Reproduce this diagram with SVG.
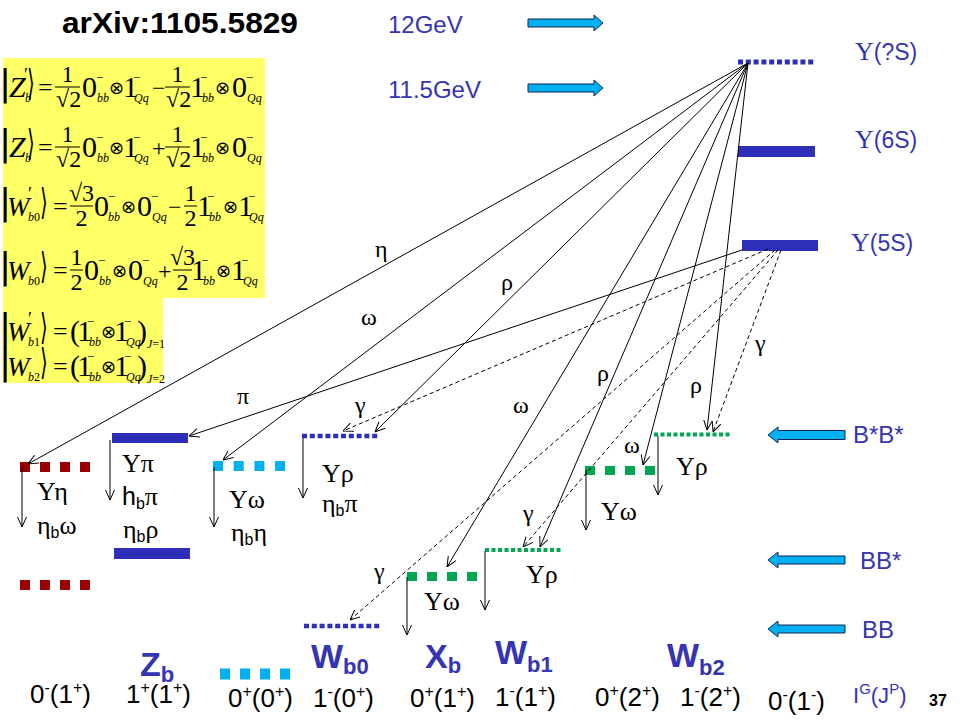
<svg xmlns="http://www.w3.org/2000/svg" width="960" height="720" viewBox="0 0 960 720">
<defs>
<marker id="ah" viewBox="0 0 10 10" refX="10" refY="5" markerWidth="10" markerHeight="10" markerUnits="userSpaceOnUse" orient="auto">
<path d="M0,0.5 L10,5 L0,9.5" fill="none" stroke="#000" stroke-width="1"/>
</marker>
<style>
.sans{font-family:"Liberation Sans",Arial,sans-serif}
.ser{font-family:"Liberation Serif","DejaVu Serif",serif}
.blue{fill:#3434B4}
.m{font-family:"Liberation Serif","DejaVu Serif",serif;font-size:30px}
.w{font-family:"Liberation Serif","DejaVu Serif",serif;font-size:27px;font-style:italic}
.eq{font-family:"Liberation Serif","DejaVu Serif",serif;font-size:26px}
.op{font-family:"Liberation Serif","DejaVu Serif",serif;font-size:24px}
.fr{font-family:"Liberation Serif","DejaVu Serif",serif;font-size:24px}
.sb{font-family:"Liberation Serif","DejaVu Serif",serif;font-size:12px;font-style:italic}
.sp{font-family:"Liberation Serif","DejaVu Serif",serif;font-size:13px}
.pr{font-family:"Liberation Serif","DejaVu Serif",serif;font-size:18px}
.it{font-style:italic}
.kt{font-family:"DejaVu Sans",sans-serif;font-size:36px}
.ot{font-family:"DejaVu Sans",sans-serif;font-size:18px}
.bar{stroke:#000;stroke-width:1}
.gk{font-family:"Liberation Serif","DejaVu Serif",serif;font-size:24px;fill:#000}
.nl{font-family:"Liberation Serif","DejaVu Serif",serif;font-size:26px;fill:#000}
.nb{font-family:"Liberation Sans",Arial,sans-serif;font-size:16px}
.nh{font-family:"Liberation Sans",Arial,sans-serif;font-size:25px}
.ln{stroke:#000;stroke-width:1;fill:none;marker-end:url(#ah)}
.dl{stroke:#000;stroke-width:1;fill:none;stroke-dasharray:4 3;marker-end:url(#ah)}
.blk{fill:#00B0F0;stroke:#1B2550;stroke-width:1}
.lv{font-family:"Liberation Sans",Arial,sans-serif;font-size:24px;fill:#3434B4}
.big{font-family:"Liberation Sans",Arial,sans-serif;font-weight:bold;fill:#3434B4}
.jp{font-family:"Liberation Sans",Arial,sans-serif;font-size:26px;fill:#000}
</style>
</defs>
<rect width="960" height="720" fill="#fff"/>

<!-- title -->
<text class="sans" x="62" y="33" font-size="30" font-weight="bold" textLength="236" lengthAdjust="spacingAndGlyphs">arXiv:1105.5829</text>

<!-- equations box -->
<g id="equations">
<path d="M3,58 H265 V298 H163 V383 H3 Z" fill="#FFFF66"/>
<!-- row 1 -->
<g transform="translate(0,87)">
<text class="kt" x="-1" y="8">|</text>
<text class="m it" x="9" y="10" font-size="28">Z</text>
<text class="pr" x="24" y="-6">′</text>
<text class="sb" x="25" y="15">b</text>
<text class="kt" transform="translate(27,8) scale(0.55,1)">⟩</text>
<text class="eq" x="38" y="9">=</text>
<line class="bar" x1="55" y1="0" x2="80" y2="0"/>
<text class="fr" x="67.5" y="-5" text-anchor="middle">1</text>
<text class="fr" x="56" y="20">√2</text>
<text class="m" x="82" y="10">0</text>
<text class="sp" x="96" y="-5">−</text>
<text class="sb" x="97" y="15">bb</text>
<text class="ot" x="109" y="7">⊗</text>
<text class="m" x="123" y="10">1</text>
<text class="sp" x="133" y="-5">−</text>
<text class="sb" x="134" y="15">Qq</text>
<text class="op" x="152" y="9">−</text>
<line class="bar" x1="165" y1="0" x2="190" y2="0"/>
<text class="fr" x="177.5" y="-5" text-anchor="middle">1</text>
<text class="fr" x="166" y="20">√2</text>
<text class="m" x="190" y="10">1</text>
<text class="sp" x="200" y="-5">−</text>
<text class="sb" x="202" y="15">bb</text>
<text class="ot" x="215" y="7">⊗</text>
<text class="m" x="232" y="10">0</text>
<text class="sp" x="246" y="-5">−</text>
<text class="sb" x="247" y="15">Qq</text>
</g>
<!-- row 2 -->
<g transform="translate(0,147)">
<text class="kt" x="-1" y="8">|</text>
<text class="m it" x="9" y="10" font-size="28">Z</text>
<text class="sb" x="25" y="15">b</text>
<text class="kt" transform="translate(27,8) scale(0.55,1)">⟩</text>
<text class="eq" x="38" y="9">=</text>
<line class="bar" x1="55" y1="0" x2="80" y2="0"/>
<text class="fr" x="67.5" y="-5" text-anchor="middle">1</text>
<text class="fr" x="56" y="20">√2</text>
<text class="m" x="82" y="10">0</text>
<text class="sp" x="96" y="-5">−</text>
<text class="sb" x="97" y="15">bb</text>
<text class="ot" x="109" y="7">⊗</text>
<text class="m" x="123" y="10">1</text>
<text class="sp" x="133" y="-5">−</text>
<text class="sb" x="134" y="15">Qq</text>
<text class="op" x="152" y="9">+</text>
<line class="bar" x1="165" y1="0" x2="190" y2="0"/>
<text class="fr" x="177.5" y="-5" text-anchor="middle">1</text>
<text class="fr" x="166" y="20">√2</text>
<text class="m" x="190" y="10">1</text>
<text class="sp" x="200" y="-5">−</text>
<text class="sb" x="202" y="15">bb</text>
<text class="ot" x="215" y="7">⊗</text>
<text class="m" x="232" y="10">0</text>
<text class="sp" x="246" y="-5">−</text>
<text class="sb" x="247" y="15">Qq</text>
</g>
<!-- row 3 -->
<g transform="translate(0,206)">
<text class="kt" x="-1" y="8">|</text>
<text class="w" x="7" y="10">W</text>
<text class="pr" x="28" y="-6">′</text>
<text class="sb" x="28" y="15">b<tspan font-style="normal">0</tspan></text>
<text class="kt" transform="translate(40,8) scale(0.55,1)">⟩</text>
<text class="eq" x="53" y="9">=</text>
<line class="bar" x1="70" y1="0" x2="93" y2="0"/>
<text class="fr" x="81.5" y="-5" text-anchor="middle">√3</text>
<text class="fr" x="81.5" y="20" text-anchor="middle">2</text>
<text class="m" x="94" y="10">0</text>
<text class="sp" x="108" y="-5">−</text>
<text class="sb" x="108" y="15">bb</text>
<text class="ot" x="121" y="7">⊗</text>
<text class="m" x="137" y="10">0</text>
<text class="sp" x="151" y="-5">−</text>
<text class="sb" x="152" y="15">Qq</text>
<text class="op" x="168" y="9">−</text>
<line class="bar" x1="184" y1="0" x2="197" y2="0"/>
<text class="fr" x="190.5" y="-5" text-anchor="middle">1</text>
<text class="fr" x="190.5" y="20" text-anchor="middle">2</text>
<text class="m" x="197" y="10">1</text>
<text class="sp" x="207" y="-5">−</text>
<text class="sb" x="209" y="15">bb</text>
<text class="ot" x="223" y="7">⊗</text>
<text class="m" x="238" y="10">1</text>
<text class="sp" x="248" y="-5">−</text>
<text class="sb" x="249" y="15">Qq</text>
</g>
<!-- row 4 -->
<g transform="translate(0,270)">
<text class="kt" x="-1" y="8">|</text>
<text class="w" x="7" y="10">W</text>
<text class="sb" x="28" y="15">b<tspan font-style="normal">0</tspan></text>
<text class="kt" transform="translate(40,8) scale(0.55,1)">⟩</text>
<text class="eq" x="53" y="9">=</text>
<line class="bar" x1="70" y1="0" x2="83" y2="0"/>
<text class="fr" x="76.5" y="-5" text-anchor="middle">1</text>
<text class="fr" x="76.5" y="20" text-anchor="middle">2</text>
<text class="m" x="84" y="10">0</text>
<text class="sp" x="98" y="-5">−</text>
<text class="sb" x="99" y="15">bb</text>
<text class="ot" x="112" y="7">⊗</text>
<text class="m" x="128" y="10">0</text>
<text class="sp" x="142" y="-5">−</text>
<text class="sb" x="143" y="15">Qq</text>
<text class="op" x="158" y="9">+</text>
<line class="bar" x1="173" y1="0" x2="192" y2="0"/>
<text class="fr" x="182.5" y="-5" text-anchor="middle">√3</text>
<text class="fr" x="182.5" y="20" text-anchor="middle">2</text>
<text class="m" x="191" y="10">1</text>
<text class="sp" x="201" y="-5">−</text>
<text class="sb" x="203" y="15">bb</text>
<text class="ot" x="216" y="7">⊗</text>
<text class="m" x="231" y="10">1</text>
<text class="sp" x="241" y="-5">−</text>
<text class="sb" x="243" y="15">Qq</text>
</g>
<!-- row 5 -->
<g transform="translate(0,331)">
<text class="kt" x="-1" y="8">|</text>
<text class="w" x="7" y="10">W</text>
<text class="pr" x="28" y="-6">′</text>
<text class="sb" x="28" y="15">b<tspan font-style="normal">1</tspan></text>
<text class="kt" transform="translate(40,8) scale(0.55,1)">⟩</text>
<text class="eq" x="53" y="9">=</text>
<text class="m" x="70" y="10">(</text>
<text class="m" x="77" y="10">1</text>
<text class="sp" x="87" y="-5">−</text>
<text class="sb" x="89" y="15">bb</text>
<text class="ot" x="101" y="7">⊗</text>
<text class="m" x="114" y="10">1</text>
<text class="sp" x="124" y="-5">−</text>
<text class="sb" x="126" y="15">Qq</text>
<text class="m" x="137" y="10">)</text>
<text class="sb" x="147" y="17" font-size="10">J<tspan font-style="normal">=1</tspan></text>
</g>
<!-- row 6 -->
<g transform="translate(0,366)">
<text class="kt" x="-1" y="8">|</text>
<text class="w" x="7" y="10">W</text>
<text class="sb" x="28" y="15">b<tspan font-style="normal">2</tspan></text>
<text class="kt" transform="translate(40,8) scale(0.55,1)">⟩</text>
<text class="eq" x="53" y="9">=</text>
<text class="m" x="70" y="10">(</text>
<text class="m" x="77" y="10">1</text>
<text class="sp" x="87" y="-5">−</text>
<text class="sb" x="89" y="15">bb</text>
<text class="ot" x="101" y="7">⊗</text>
<text class="m" x="114" y="10">1</text>
<text class="sp" x="124" y="-5">−</text>
<text class="sb" x="126" y="15">Qq</text>
<text class="m" x="137" y="10">)</text>
<text class="sb" x="147" y="17" font-size="10">J<tspan font-style="normal">=2</tspan></text>
</g>
</g>

<!-- energy markers -->
<g id="energy-12">
<text class="lv" x="388" y="33">12GeV</text>
<polygon class="blk" points="528,19 594,19 594,15 603,23 594,31 594,27 528,27"/>
</g>
<g id="energy-11_5">
<text class="lv" x="388" y="98">11.5GeV</text>
<polygon class="blk" points="528,84 594,84 594,80 603,88 594,96 594,92 528,92"/>
</g>

<!-- upsilon levels -->
<g id="upsilon-qS">
<line x1="738" y1="62" x2="815" y2="62" stroke="#2E2EB8" stroke-width="5" stroke-dasharray="5 2.8"/>
<text x="855" y="60" class="blue"><tspan class="ser" font-size="26">Υ</tspan><tspan class="sans" font-size="23">(?S)</tspan></text>
</g>
<g id="upsilon-6S">
<rect x="738" y="146" width="77" height="11" fill="#2E2EB8"/>
<text x="855" y="148" class="blue"><tspan class="ser" font-size="26">Υ</tspan><tspan class="sans" font-size="23">(6S)</tspan></text>
</g>
<g id="upsilon-5S">
<rect x="742" y="240" width="76" height="11" fill="#2E2EB8"/>
<text x="851" y="251" class="blue"><tspan class="ser" font-size="26">Υ</tspan><tspan class="sans" font-size="23">(5S)</tspan></text>
</g>

<!-- thresholds -->
<g id="thr-BsBs">
<polygon class="blk" points="845,430.5 778,430.5 778,427 768,435 778,443 778,439.5 845,439.5"/>
<text class="lv" x="853" y="443">B*B*</text>
</g>
<g id="thr-BBs">
<polygon class="blk" points="845,556 778,556 778,552 768,560 778,568 778,564 845,564"/>
<text class="lv" x="860" y="569">BB*</text>
</g>
<g id="thr-BB">
<polygon class="blk" points="845,625 778,625 778,621 768,629 778,637 778,633 845,633"/>
<text class="lv" x="862" y="638">BB</text>
</g>

<!-- states -->
<g id="state-0m1p">
<line x1="20" y1="467" x2="90" y2="467" stroke="#990000" stroke-width="10" stroke-dasharray="10 10"/>
<line x1="20" y1="585" x2="90" y2="585" stroke="#990000" stroke-width="10" stroke-dasharray="10 10"/>
<text class="nl" x="37" y="500">Υη</text>
<text class="nl" x="37" y="534">η<tspan class="nb" dy="4">b</tspan><tspan dy="-4">ω</tspan></text>
</g>
<g id="state-Zb">
<rect x="112" y="433" width="76" height="10" fill="#2E2EB8"/>
<rect x="114" y="548" width="76" height="11" fill="#2E2EB8"/>
<text class="nl" x="122" y="472">Υπ</text>
<text x="122" y="505"><tspan class="nh">h</tspan><tspan class="nb" dy="4">b</tspan><tspan class="nl" dy="-4">π</tspan></text>
<text class="nl" x="123" y="538">η<tspan class="nb" dy="4">b</tspan><tspan dy="-4">ρ</tspan></text>
</g>
<g id="state-0p0p">
<line x1="213" y1="466" x2="285" y2="466" stroke="#00B0F0" stroke-width="10" stroke-dasharray="10 10.7"/>
<line x1="220" y1="674" x2="290" y2="674" stroke="#00B0F0" stroke-width="11" stroke-dasharray="10 10"/>
<text class="nl" x="229" y="508">Υω</text>
<text class="nl" x="231" y="541">η<tspan class="nb" dy="4">b</tspan><tspan dy="-4">η</tspan></text>
</g>
<g id="state-Wb0-upper">
<line x1="302" y1="436" x2="379" y2="436" stroke="#2E2EB8" stroke-width="4.5" stroke-dasharray="5 2.8"/>
<text class="nl" x="322" y="482">Υρ</text>
<text class="nl" x="322" y="512">η<tspan class="nb" dy="4">b</tspan><tspan dy="-4">π</tspan></text>
</g>
<g id="state-Wb0">
<line x1="304" y1="626" x2="381" y2="626" stroke="#2E2EB8" stroke-width="4.5" stroke-dasharray="5 2.8"/>
</g>
<g id="state-Xb">
<line x1="407" y1="576.5" x2="477" y2="576.5" stroke="#00A651" stroke-width="9" stroke-dasharray="10 10"/>
<text class="nl" x="424" y="610">Υω</text>
</g>
<g id="state-Wb1">
<line x1="485" y1="550" x2="561" y2="550" stroke="#00A651" stroke-width="4" stroke-dasharray="4 2.5"/>
<text class="nl" x="526" y="583">Υρ</text>
</g>
<g id="state-green-mid">
<line x1="585" y1="470.5" x2="655" y2="470.5" stroke="#00A651" stroke-width="9" stroke-dasharray="10 10"/>
<text class="nl" x="601" y="520">Υω</text>
</g>
<g id="state-Wb2">
<line x1="654" y1="434.5" x2="731" y2="434.5" stroke="#00A651" stroke-width="4" stroke-dasharray="4 2.5"/>
<text class="nl" x="676" y="475">Υρ</text>
</g>

<!-- connectors -->
<g id="connectors">
<line class="ln" x1="748" y1="63" x2="28" y2="464"/>
<line class="ln" x1="748" y1="63" x2="223" y2="460"/>
<line class="ln" x1="748" y1="63" x2="375" y2="432"/>
<line class="ln" x1="748" y1="63" x2="447" y2="567"/>
<line class="ln" x1="748" y1="63" x2="540" y2="547"/>
<line class="ln" x1="748" y1="63" x2="643" y2="465"/>
<line class="ln" x1="748" y1="63" x2="707" y2="430"/>
<line class="ln" x1="742" y1="250" x2="189" y2="436"/>
<line class="dl" x1="768" y1="249" x2="343" y2="431"/>
<line class="dl" x1="775" y1="250" x2="350" y2="620"/>
<line class="dl" x1="778" y1="250" x2="523" y2="547"/>
<line class="dl" x1="781" y1="250" x2="713" y2="432"/>
<line class="ln" x1="22" y1="467" x2="22" y2="527"/>
<line class="ln" x1="110" y1="440" x2="110" y2="500"/>
<line class="ln" x1="214" y1="467" x2="214" y2="527"/>
<line class="ln" x1="303" y1="438" x2="303" y2="498"/>
<line class="ln" x1="407" y1="577" x2="407" y2="635"/>
<line class="ln" x1="485" y1="551" x2="485" y2="610"/>
<line class="ln" x1="586" y1="470" x2="586" y2="530"/>
<line class="ln" x1="658" y1="436" x2="658" y2="495"/>
<text class="gk" x="375" y="257">η</text>
<text class="gk" x="501" y="290">ρ</text>
<text class="gk" x="361" y="325">ω</text>
<text class="gk" x="237" y="404">π</text>
<text class="gk" x="355" y="413">γ</text>
<text class="gk" x="597" y="381">ρ</text>
<text class="gk" x="513" y="413">ω</text>
<text class="gk" x="755" y="351">γ</text>
<text class="gk" x="690" y="393">ρ</text>
<text class="gk" x="624" y="453">ω</text>
<text class="gk" x="523" y="521">γ</text>
<text class="gk" x="374" y="579">γ</text>
</g>

<!-- bottom labels -->
<g id="names">
<text class="big" x="140" y="676" font-size="34">Z<tspan font-size="22" dy="6">b</tspan></text>
<text class="big" x="311" y="668" font-size="34">W<tspan font-size="22" dy="6">b0</tspan></text>
<text class="big" x="425" y="668" font-size="34">X<tspan font-size="22" dy="5">b</tspan></text>
<text class="big" x="495" y="664" font-size="34">W<tspan font-size="22" dy="8">b1</tspan></text>
<text class="big" x="667" y="667" font-size="34">W<tspan font-size="22" dy="8">b2</tspan></text>
</g>
<g id="quantum-numbers">
<text class="jp" x="30" y="703">0<tspan font-size="16" dy="-10">-</tspan><tspan dy="10">(1</tspan><tspan font-size="16" dy="-10">+</tspan><tspan dy="10">)</tspan></text>
<text class="jp" x="126" y="703">1<tspan font-size="16" dy="-10">+</tspan><tspan dy="10">(1</tspan><tspan font-size="16" dy="-10">+</tspan><tspan dy="10">)</tspan></text>
<text class="jp" x="228" y="707">0<tspan font-size="16" dy="-10">+</tspan><tspan dy="10">(0</tspan><tspan font-size="16" dy="-10">+</tspan><tspan dy="10">)</tspan></text>
<text class="jp" x="313" y="707">1<tspan font-size="16" dy="-10">-</tspan><tspan dy="10">(0</tspan><tspan font-size="16" dy="-10">+</tspan><tspan dy="10">)</tspan></text>
<text class="jp" x="410" y="707">0<tspan font-size="16" dy="-10">+</tspan><tspan dy="10">(1</tspan><tspan font-size="16" dy="-10">+</tspan><tspan dy="10">)</tspan></text>
<text class="jp" x="495" y="706">1<tspan font-size="16" dy="-10">-</tspan><tspan dy="10">(1</tspan><tspan font-size="16" dy="-10">+</tspan><tspan dy="10">)</tspan></text>
<text class="jp" x="595" y="706">0<tspan font-size="16" dy="-10">+</tspan><tspan dy="10">(2</tspan><tspan font-size="16" dy="-10">+</tspan><tspan dy="10">)</tspan></text>
<text class="jp" x="680" y="706">1<tspan font-size="16" dy="-10">-</tspan><tspan dy="10">(2</tspan><tspan font-size="16" dy="-10">+</tspan><tspan dy="10">)</tspan></text>
<text class="jp" x="768" y="710">0<tspan font-size="16" dy="-10">-</tspan><tspan dy="10">(1</tspan><tspan font-size="16" dy="-10">-</tspan><tspan dy="10">)</tspan></text>
<text class="sans blue" x="853" y="703" font-size="22">I<tspan font-size="15" dy="-9">G</tspan><tspan dy="9">(J</tspan><tspan font-size="15" dy="-9">P</tspan><tspan dy="9">)</tspan></text>
<text class="sans" x="929" y="706" font-size="16" font-weight="bold">37</text>
</g>
</svg>
